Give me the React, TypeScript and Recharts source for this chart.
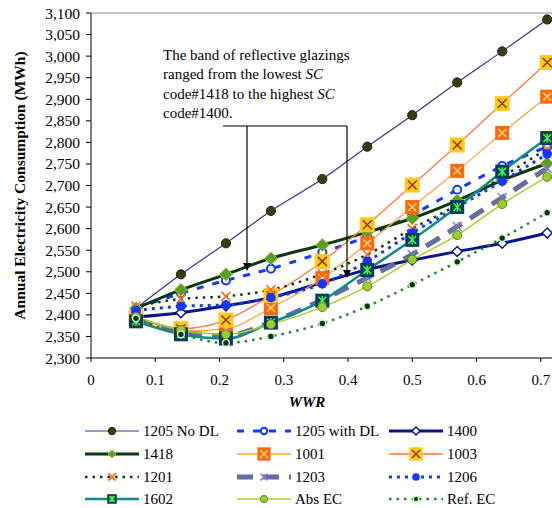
import React from 'react';
import { LineChart, Line, XAxis, YAxis, ReferenceLine, Legend } from 'recharts';

// WWR steps and annual consumption (MWh) for each glazing code
const wwr = [0.07, 0.14, 0.21, 0.28, 0.36, 0.43, 0.5, 0.57, 0.64, 0.71];
const noDaylight1205 = [2415, 2494, 2566, 2641, 2715, 2790, 2863, 2939, 3011, 3085];
const withDaylight1205 = [2415, 2450, 2480, 2507, 2545, 2582, 2632, 2690, 2745, 2790];
const code1400 = [2395, 2405, 2421, 2440, 2475, 2505, 2527, 2547, 2566, 2590];
const code1418 = [2415, 2458, 2494, 2531, 2562, 2592, 2624, 2665, 2712, 2751];
const code1001 = [2390, 2362, 2368, 2416, 2485, 2566, 2650, 2734, 2822, 2906];
const code1003 = [2395, 2368, 2388, 2445, 2524, 2609, 2701, 2794, 2890, 2985];
const code1201 = [2420, 2437, 2443, 2458, 2495, 2540, 2600, 2655, 2720, 2785];
const code1203 = [2390, 2362, 2352, 2383, 2435, 2486, 2540, 2605, 2672, 2740];
const code1206 = [2410, 2420, 2423, 2440, 2472, 2524, 2590, 2650, 2710, 2773];
const code1602 = [2385, 2355, 2345, 2382, 2433, 2504, 2574, 2650, 2732, 2810];
const absEc = [2395, 2365, 2355, 2378, 2418, 2466, 2528, 2585, 2657, 2720];
const refEc = [2392, 2355, 2335, 2350, 2380, 2420, 2470, 2523, 2578, 2637];

const xTicks = [0, 0.1, 0.2, 0.3, 0.4, 0.5, 0.6, 0.7];
const yTicks = [
  2300, 2350, 2400, 2450, 2500, 2550, 2600, 2650, 2700, 2750, 2800, 2850, 2900, 2950, 3000, 3050, 3100,
];

type MarkerKind =
  | 'olive' | 'ring' | 'diamondOpen' | 'diamondGreen' | 'sqOrange' | 'sqGold'
  | 'xOrange' | 'xSlate' | 'dotBlue' | 'sqNavy' | 'dotLime' | 'dotRef';

interface SeriesDef {
  key: string;
  name: string;
  values: number[];
  stroke: string;
  width: number;
  dash?: string;
  marker: MarkerKind;
}

const series: SeriesDef[] = [
  { key: 'noDl', name: '1205 No DL', values: noDaylight1205, stroke: '#2b379c', width: 1.2, marker: 'olive' },
  { key: 'withDl', name: '1205 with DL', values: withDaylight1205, stroke: '#1238ff', width: 3, dash: '7 9', marker: 'ring' },
  { key: 'c1400', name: '1400', stroke: '#0b1585', values: code1400, width: 3, marker: 'diamondOpen' },
  { key: 'c1418', name: '1418', stroke: '#0c380c', values: code1418, width: 3, marker: 'diamondGreen' },
  { key: 'c1001', name: '1001', stroke: '#ffa445', values: code1001, width: 1.3, marker: 'sqOrange' },
  { key: 'c1003', name: '1003', stroke: '#ff7a3a', values: code1003, width: 1.3, marker: 'sqGold' },
  { key: 'c1201', name: '1201', stroke: '#0c380c', values: code1201, width: 2.5, dash: '2.5 5', marker: 'xOrange' },
  { key: 'c1203', name: '1203', stroke: '#676c9e', values: code1203, width: 5, dash: '16 10', marker: 'xSlate' },
  { key: 'c1206', name: '1206', stroke: '#1238ff', values: code1206, width: 3, dash: '3 5', marker: 'dotBlue' },
  { key: 'c1602', name: '1602', stroke: '#128a8a', values: code1602, width: 2.5, marker: 'sqNavy' },
  { key: 'absEc', name: 'Abs EC', stroke: '#a8cf2e', values: absEc, width: 1.5, marker: 'dotLime' },
  { key: 'refEc', name: 'Ref. EC', stroke: '#1e8a1e', values: refEc, width: 2.5, dash: '2.5 5', marker: 'dotRef' },
];

const chartData = wwr.map((x, i) => {
  const row: Record<string, number> = { wwr: x };
  series.forEach((s) => {
    row[s.key] = s.values[i];
  });
  return row;
});

const FONT = '"Liberation Serif", "Times New Roman", serif';

function cross(cx: number, cy: number, h: number, color: string, w: number) {
  return (
    <path
      d={`M${cx - h},${cy - h}L${cx + h},${cy + h}M${cx - h},${cy + h}L${cx + h},${cy - h}`}
      stroke={color}
      strokeWidth={w}
      fill="none"
    />
  );
}

function Marker({ kind, cx, cy, small = false }: { kind: MarkerKind; cx: number; cy: number; small?: boolean }) {
  const k = small ? 0.8 : 1;
  switch (kind) {
    case 'olive':
      return <circle cx={cx} cy={cy} r={4.6 * k} fill="#3b3a12" stroke="#26250a" strokeWidth={1} />;
    case 'ring':
      return <circle cx={cx} cy={cy} r={4 * k} fill="#fff" stroke="#1238ff" strokeWidth={2} />;
    case 'diamondOpen': {
      const h = 5 * k;
      return (
        <polygon
          points={`${cx},${cy - h} ${cx + h},${cy} ${cx},${cy + h} ${cx - h},${cy}`}
          fill="#fff"
          stroke="#0b1585"
          strokeWidth={1.5}
        />
      );
    }
    case 'diamondGreen': {
      const h = (small ? 4 : 6.5);
      return (
        <polygon
          points={`${cx},${cy - h} ${cx + h},${cy} ${cx},${cy + h} ${cx - h},${cy}`}
          fill="#5e9e1c"
          stroke="#9ccc3c"
          strokeWidth={1}
        />
      );
    }
    case 'sqOrange': {
      const h = 7 * (small ? 0.95 : 1);
      return (
        <g>
          <rect x={cx - h} y={cy - h} width={h * 2} height={h * 2} fill="#ff6a08" />
          {cross(cx, cy, h * 0.55, '#ffd68a', 1.5)}
        </g>
      );
    }
    case 'sqGold': {
      const h = 7.5 * (small ? 0.9 : 1);
      return (
        <g>
          <rect x={cx - h} y={cy - h} width={h * 2} height={h * 2} fill="#ffc81a" />
          {cross(cx, cy, h * 0.6, '#8a3a08', 1.5)}
        </g>
      );
    }
    case 'xOrange':
      return cross(cx, cy, 4.5 * k, '#ff6a1a', 1.6);
    case 'xSlate':
      return cross(cx, cy, 4.5 * k, '#7a80b4', 1.4);
    case 'dotBlue':
      return <circle cx={cx} cy={cy} r={4.8 * k} fill="#1238ff" />;
    case 'sqNavy': {
      const h = small ? 4.8 : 7;
      return (
        <g>
          <rect x={cx - h} y={cy - h} width={h * 2} height={h * 2} fill="#0c3a5e" />
          {cross(cx, cy, h * 0.55, '#3dff3d', 1.5)}
          <path d={`M${cx},${cy - h * 0.65}L${cx},${cy + h * 0.65}`} stroke="#3dff3d" strokeWidth={1.5} />
        </g>
      );
    }
    case 'dotLime':
      return <circle cx={cx} cy={cy} r={4.5 * k} fill="#9ccc30" stroke="#5e8a0a" strokeWidth={1} />;
    case 'dotRef':
      return <circle cx={cx} cy={cy} r={3.4 * k} fill="#0a300a" stroke="#c8f5c8" strokeWidth={1.5} />;
    default:
      return null;
  }
}

// Legend laid out in a 3-column grid under the axis title
const legendCols = [85, 237, 389];
const legendRows = [11, 34, 57, 79];

function LegendBlock() {
  return (
    <svg width={552} height={90} style={{ display: 'block' }}>
      {series.map((s, i) => {
        const x = legendCols[i % 3];
        const y = legendRows[Math.floor(i / 3)];
        return (
          <g key={s.key}>
            <line
              x1={x}
              x2={x + 54}
              y1={y}
              y2={y}
              stroke={s.stroke}
              strokeWidth={s.width}
              strokeDasharray={s.dash}
            />
            <Marker kind={s.marker} cx={x + 27} cy={y} small />
            <text x={x + 58} y={y + 5} fontFamily={FONT} fontSize={15} fill="#000">
              {s.name}
            </text>
          </g>
        );
      })}
    </svg>
  );
}

function Annotation() {
  const lines = [
    <>The band of reflective glazings</>,
    <>ranged from the lowest <tspan fontStyle="italic">SC</tspan></>,
    <>code#1418 to the highest <tspan fontStyle="italic">SC</tspan></>,
    <>code#1400.</>,
  ];
  return (
    <svg
      width={552}
      height={508}
      style={{ position: 'absolute', left: 0, top: 0, pointerEvents: 'none' }}
    >
      {lines.map((l, i) => (
        <text key={i} x={163} y={60 + i * 19.4} fontFamily={FONT} fontSize={15} fill="#000">
          {l}
        </text>
      ))}
      <path d="M223,126L347,126M247,126L247,263M347,126L347,270" stroke="#000" strokeWidth={1.2} fill="none" />
      <polygon points="243,263 251,263 247,271" fill="#000" />
      <polygon points="343,270 351,270 347,278" fill="#000" />
    </svg>
  );
}

export default function App() {
  return (
    <div
      style={{
        position: 'absolute',
        left: 0,
        top: 0,
        width: 552,
        height: 508,
        overflow: 'hidden',
        background: '#fff',
      }}
    >
      <LineChart
        width={605}
        height={508}
        data={chartData}
        margin={{ top: 13, right: 0, bottom: 88, left: 0 }}
      >
        <XAxis
          dataKey="wwr"
          type="number"
          domain={[0, 0.8]}
          ticks={xTicks}
          tickFormatter={(v) => String(v)}
          height={62}
          tickSize={4}
          tickMargin={12}
          stroke="#000"
          tick={{ fill: '#000', fontFamily: FONT, fontSize: 15 }}
          label={{
            value: 'WWR',
            content: ({ viewBox }: any) => (
              <text
                x={viewBox.x + 216}
                y={viewBox.y + 49}
                textAnchor="middle"
                fontFamily={FONT}
                fontSize={15}
                fontWeight="bold"
                fontStyle="italic"
              >
                WWR
              </text>
            ),
          }}
        />
        <YAxis
          type="number"
          domain={[2300, 3100]}
          ticks={yTicks}
          interval={0}
          width={91}
          tickSize={5}
          tickMargin={6}
          stroke="#000"
          tickFormatter={(v) => Number(v).toLocaleString('en-US')}
          tick={{ fill: '#000', fontFamily: FONT, fontSize: 15.5 }}
          label={{
            value: 'Annual Electricity Consumption (MWh)',
            content: ({ viewBox }: any) => {
              const cx = 19;
              const cy = viewBox.y + viewBox.height / 2;
              return (
                <text
                  x={cx}
                  y={cy}
                  transform={`rotate(-90, ${cx}, ${cy})`}
                  textAnchor="middle"
                  dominantBaseline="central"
                  fontFamily={FONT}
                  fontSize={15.5}
                  fontWeight="bold"
                >
                  Annual Electricity Consumption (MWh)
                </text>
              );
            },
          }}
        />
        <ReferenceLine y={3100} stroke="#8c8c8c" strokeWidth={1} />
        {series.map((s) => (
          <Line
            key={s.key}
            dataKey={s.key}
            name={s.name}
            type="monotone"
            stroke={s.stroke}
            strokeWidth={s.width}
            strokeDasharray={s.dash}
            isAnimationActive={false}
            activeDot={false}
            dot={(p: any) => (
              <Marker key={`${s.key}-${p.index}`} kind={s.marker} cx={p.cx} cy={p.cy} />
            )}
          />
        ))}
        <Legend
          layout="horizontal"
          verticalAlign="middle"
          align="center"
          wrapperStyle={{ left: 0, top: 420, width: 552, height: 90 }}
          content={() => <LegendBlock />}
        />
      </LineChart>
      <Annotation />
    </div>
  );
}
